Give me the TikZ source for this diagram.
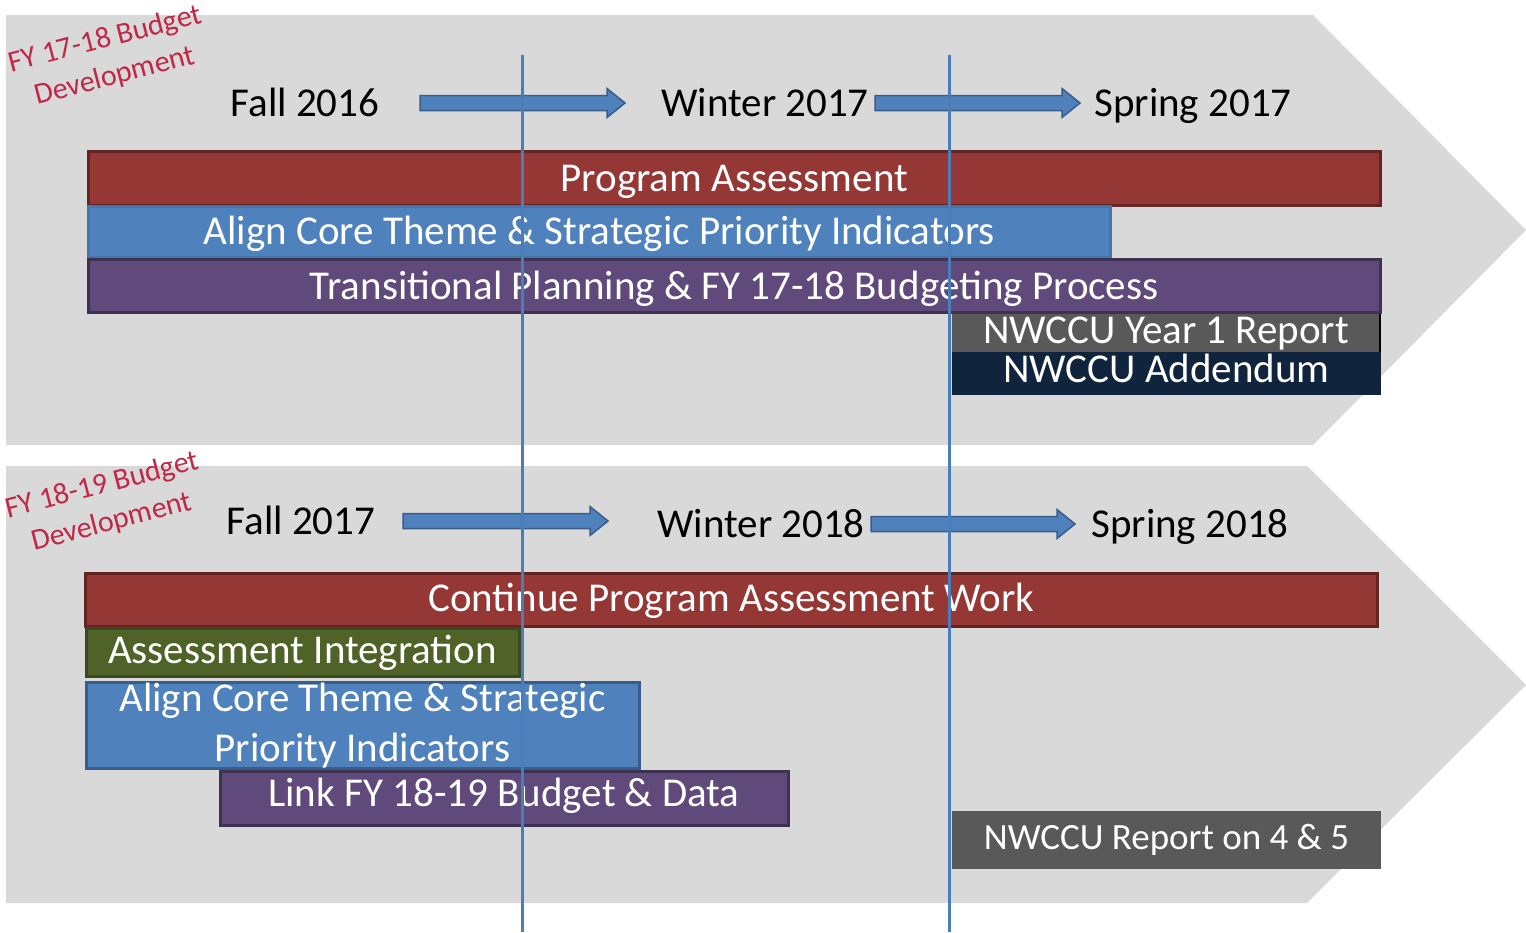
\documentclass[tikz,border=0pt]{standalone}
\usepackage{fontspec}
\setmainfont{Carlito}
\usetikzlibrary{calc}
\definecolor{bgc}{HTML}{D9D9D9}
\definecolor{redf}{HTML}{953735}
\definecolor{redd}{HTML}{632523}
\definecolor{bluef}{HTML}{4F81BD}
\definecolor{blued}{HTML}{385D8A}
\definecolor{bluel}{HTML}{4775AA}
\definecolor{purf}{HTML}{604A7B}
\definecolor{purd}{HTML}{3F3151}
\definecolor{grnf}{HTML}{4F6228}
\definecolor{grnd}{HTML}{3B4A1E}
\definecolor{grayf}{HTML}{595959}
\definecolor{navyf}{HTML}{10243E}
\definecolor{vline}{HTML}{4A7EBB}
\definecolor{lblred}{RGB}{192,40,72}
\newcommand{\blockarr}[2]{%
  \draw[barr] ($(#1)+(0,-7.5)$) -- ($(#2)+(-18,-7.5)$) -- ($(#2)+(-18,-14.5)$) -- (#2)
    -- ($(#2)+(-18,14.5)$) -- ($(#2)+(-18,7.5)$) -- ($(#1)+(0,7.5)$) -- cycle;}
\tikzset{
  bar/.style={rectangle, inner sep=0pt, outer sep=0pt, line width=3pt, text=white,
    font=\fontsize{41}{50}\selectfont, text height=26.4pt, text depth=0pt},
  hdr/.style={inner sep=0pt, text=black, font=\fontsize{41}{50}\selectfont,
    text height=26.4pt, text depth=0pt},
  budlbl/.style={inner sep=0pt, text=lblred, font=\fontsize{30}{38}\selectfont,
    align=center, rotate=14.5},
  barr/.style={fill=bluef, draw=blued, line width=1.5pt},
  vl/.style={draw=vline, line width=3pt},
}
\begin{document}
\begin{tikzpicture}[x=1pt,y=-1pt]
\useasboundingbox (0,0) rectangle (1526,932);
% background chevrons
\fill[bgc] (6,15) -- (1313,15) -- (1526,230) -- (1313,445) -- (6,445) -- cycle;
\fill[bgc] (6,466) -- (1307,466) -- (1526,685) -- (1307,903) -- (6,903) -- cycle;
% budget labels
\node[budlbl] (lbl1) at (110,58) {FY 17-18 Budget\\Development};
\node[budlbl] (lbl2) at (107,504) {FY 18-19 Budget\\Development};
% headers top
\node[hdr] (f16) at (305,103) {Fall 2016};
\node[hdr] (w17) at (765,103) {Winter 2017};
\node[hdr] (s17) at (1193,103) {Spring 2017};
\coordinate (a1s) at (420,103); \coordinate (a1e) at (625,103);
\coordinate (a2s) at (875,103); \coordinate (a2e) at (1080,103);
\blockarr{a1s}{a1e}
\blockarr{a2s}{a2e}
% headers bottom
\node[hdr] (f17) at (301,521) {Fall 2017};
\node[hdr] (w18) at (761,524) {Winter 2018};
\node[hdr] (s18) at (1190,524) {Spring 2018};
\coordinate (b1s) at (403,521); \coordinate (b1e) at (608,521);
\coordinate (b2s) at (871,524); \coordinate (b2e) at (1075,524);
\blockarr{b1s}{b1e}
\blockarr{b2s}{b2e}
% top bars
\node[bar, fill=redf, draw=redd, minimum width=1291.5pt, minimum height=53.5pt] (pa) at (734.25,178.25) {Program Assessment};
\node[bar, fill=bluef, draw=bluel, minimum width=1021.5pt, minimum height=51pt, text depth=2pt] (act) at (599.25,232) {Align Core Theme \& Strategic Priority Indicators};
\node[bar, fill=purf, draw=purd, minimum width=1291.5pt, minimum height=53pt] (tp) at (734.25,286) {Transitional Planning \& FY 17-18 Budgeting Process};
\node[bar, fill=grayf, minimum width=428pt, minimum height=38pt, text depth=6pt] (yr1) at (1166,333) {NWCCU Year 1 Report};
\draw[black, line width=1.5pt] (yr1.north east) -- (yr1.south east);
\node[bar, fill=navyf, minimum width=429pt, minimum height=43pt, text depth=8pt] (add) at (1166.5,373.5) {NWCCU Addendum};
% bottom bars
\node[bar, fill=redf, draw=redd, minimum width=1291.5pt, minimum height=53pt, text depth=3pt] (cpa) at (731.25,599.5) {Continue Program Assessment Work};
\node[bar, fill=grnf, draw=grnd, minimum width=433pt, minimum height=48pt, text depth=4pt] (ai) at (302.5,652) {Assessment Integration};
\node[bar, fill=bluef, draw=blued, minimum width=553pt, minimum height=83pt, align=center, text height=, text depth=] (act2) at (362.5,725.5) {Align Core Theme \& Strategic\\Priority Indicators};
\node[bar, fill=purf, draw=purd, minimum width=568pt, minimum height=54pt, text depth=10pt] (lnk) at (504,798) {Link FY 18-19 Budget \& Data};
\node[bar, fill=grayf, minimum width=429pt, minimum height=58pt, font=\fontsize{37}{45}\selectfont, text height=23.8pt, text depth=4pt] (rep) at (1166.5,840) {NWCCU Report on 4 \& 5};
% vertical lines
\coordinate (v1t) at (522,55); \coordinate (v1b) at (522,932);
\coordinate (v2t) at (949,55); \coordinate (v2b) at (949,932);
\draw[vl] (v1t) -- (v1b);
\draw[vl] (v2t) -- (v2b);
\end{tikzpicture}
\end{document}
